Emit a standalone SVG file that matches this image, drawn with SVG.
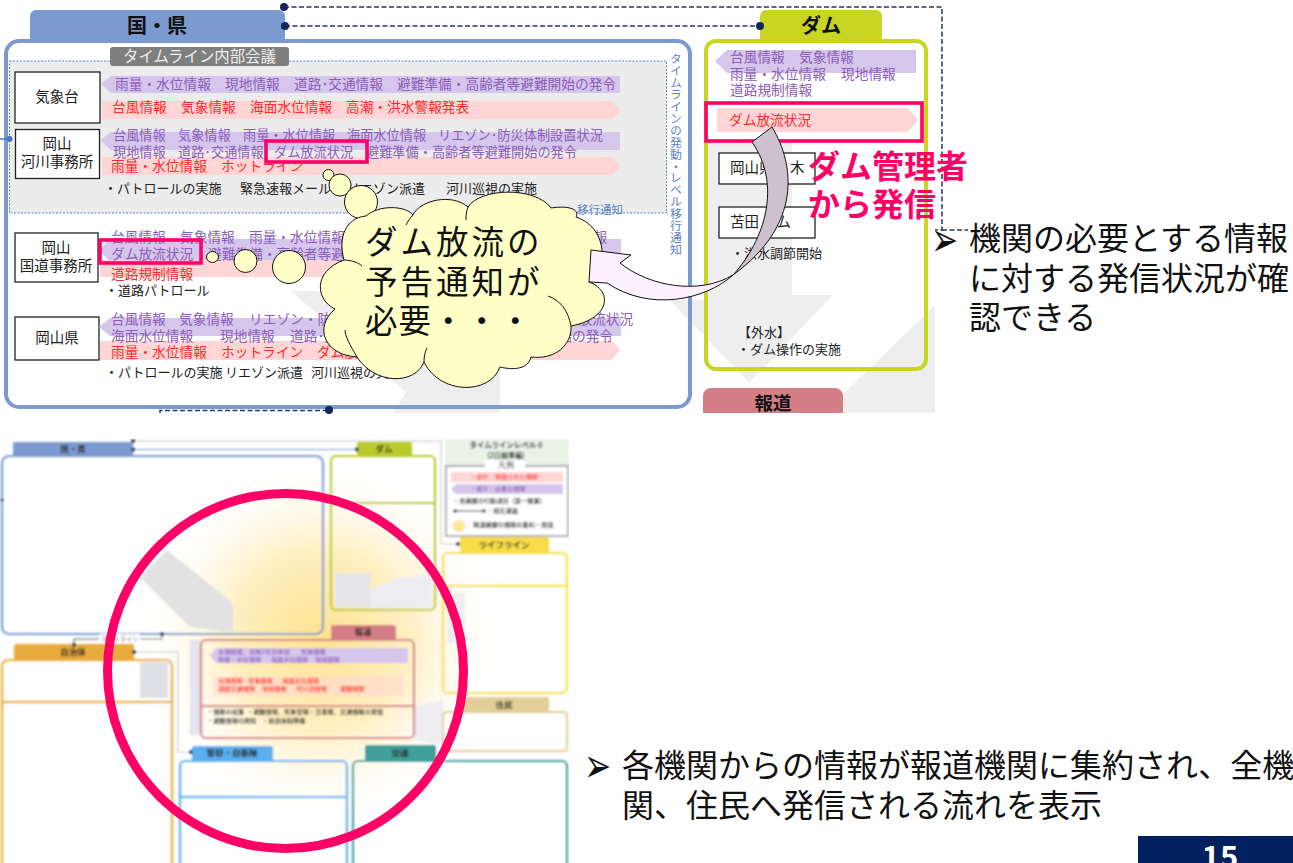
<svg xmlns="http://www.w3.org/2000/svg" width="1293" height="863" viewBox="0 0 1293 863">
<style>
text{font-family:"Noto Sans CJK JP","Noto Sans",sans-serif}
.pb{fill:#d6c6ec}.kb{fill:#ffd5d5}
.pt{fill:#8a5cb8;font-size:13.7px}.rt{fill:#ff2a2a;font-size:13.7px}.bt{fill:#222;font-size:13px}
.nr{font-size:13.2px}
.box{fill:#fff;stroke:#222;stroke-width:1.3}
.bx{font-size:14.5px;fill:#222;text-anchor:middle}
.tab{font-weight:700;fill:#111;text-anchor:middle}
.link{fill:none;stroke:#1f3864;stroke-width:1.5;stroke-dasharray:5 2.5}
.dot{fill:#12285c}
.hl{fill:none;stroke:#ff0066;stroke-width:3.6}
.big{font-size:32px;fill:#111}
.bul{font-size:24px;fill:#111;font-family:"DejaVu Sans",sans-serif}
.s{font-size:6.2px;font-weight:500}
.tb{font-size:8.5px;font-weight:700;fill:#222;text-anchor:middle}
.bubble{fill:#ffffc8;stroke:#111;stroke-width:1}
</style>
<defs>
<radialGradient id="sun" cx="320" cy="640" r="185" gradientUnits="userSpaceOnUse">
<stop offset="0" stop-color="#ffe28e"/><stop offset=".5" stop-color="#fff0c4"/><stop offset="1" stop-color="#fff" stop-opacity="0"/>
</radialGradient>
<filter id="soft" x="0" y="0" width="100%" height="100%" filterUnits="objectBoundingBox"><feGaussianBlur stdDeviation=".8"/></filter>
</defs>
<rect width="1293" height="863" fill="#fff"/>

<g id="backdrop-top" fill="#eeeeee">
<polygon points="290,290 406,392 393,413 500,413 500,300"/>
<polygon points="670,300 749,383 833,295 792,295 792,143 708,143 708,300"/>
<polygon points="935,305 840,397 840,413 935,413"/>
</g>

<g id="panel-kuni">
<path d="M30 41V16a6 6 0 0 1 6-6H279a6 6 0 0 1 6 6V41Z" fill="#7b9ad0"/>
<text class="tab" x="157" y="33" font-size="20">国・県</text>
<rect x="6" y="41" width="684" height="366" rx="13" fill="none" stroke="#7b9ad0" stroke-width="4"/>
<rect x="9.5" y="61" width="657" height="152" fill="#ececec" stroke="#5b82c7" stroke-width="1" stroke-dasharray="2 1.5"/>
<rect x="110" y="47" width="179" height="19" rx="3" fill="#7f7f7f"/>
<text x="123" y="62" font-size="15.4" fill="#eee">タイムライン内部会議</text>
<text x="676" y="53" font-size="11.9" fill="#5b82c7" style="writing-mode:vertical-rl">タイムラインの発動・レベル移行通知</text>
<text x="577" y="214" font-size="11.5" fill="#5b82c7">移行通知</text>
</g>

<g id="node-kishodai">
<rect class="box" x="15" y="72" width="85" height="51"/>
<text class="bx" x="57" y="102">気象台</text>
<polygon class="pb" points="101,84 111,76 620,76 620,93 111,93"/>
<text class="pt" y="89"><tspan x="115">雨量・水位情報</tspan><tspan x="225">現地情報</tspan><tspan x="294">道路･交通情報</tspan><tspan x="397">避難準備・高齢者等避難開始の発令</tspan></text>
<polygon class="kb" points="102,101 612,101 621,110 612,119 102,119"/>
<text class="rt" y="112"><tspan x="112">台風情報</tspan><tspan x="181">気象情報</tspan><tspan x="250">海面水位情報</tspan><tspan x="346">高潮・洪水警報発表</tspan></text>
</g>

<g id="node-kasen">
<rect class="box" x="15.5" y="129.5" width="84" height="49"/>
<text class="bx" x="57" y="149">岡山</text><text class="bx" x="57" y="167">河川事務所</text>
<polygon class="pb" points="100,140 111,132 620,132 620,150 111,150"/>
<polygon class="kb" points="102,157 612,157 621,166 612,175 102,175"/>
<text class="pt nr" y="140" style="font-size:13.2px"><tspan x="113">台風情報</tspan><tspan x="178">気象情報</tspan><tspan x="243">雨量・水位情報</tspan><tspan x="347">海面水位情報</tspan><tspan x="438">リエゾン･防災体制設置状況</tspan></text>
<text class="pt nr" y="157" style="font-size:13.2px"><tspan x="113">現地情報</tspan><tspan x="178">道路･交通情報</tspan><tspan x="274">ダム放流状況</tspan><tspan x="366">避難準備・高齢者等避難開始の発令</tspan></text>
<text class="rt" y="171"><tspan x="111">雨量・水位情報</tspan><tspan x="221">ホットライン</tspan></text>
<rect class="hl" x="266" y="141" width="101" height="21"/>
<text class="bt" y="193"><tspan x="104">・パトロールの実施</tspan><tspan x="240">緊急速報メール</tspan><tspan x="347">リエゾン派遣</tspan><tspan x="446">河川巡視の実施</tspan></text>
</g>

<g id="node-kokudo">
<rect class="box" x="15" y="233" width="83" height="49"/>
<text class="bx" x="56" y="253">岡山</text><text class="bx" x="56" y="271">国道事務所</text>
<polygon class="pb" points="99,250 110,239 621,239 621,262 110,262"/>
<polygon class="kb" points="100,260 612,260 621,268 612,277 100,277"/>
<text class="pt" y="242"><tspan x="111">台風情報</tspan><tspan x="180">気象情報</tspan><tspan x="249">雨量・水位情報</tspan><tspan x="525">海面水位情報</tspan></text>
<text class="pt" y="259"><tspan x="111">ダム放流状況</tspan><tspan x="208">避難準備・高齢者等避難開始の発令</tspan></text>
<text class="rt" y="279"><tspan x="111">道路規制情報</tspan></text>
<rect class="hl" x="100" y="240" width="101" height="23"/>
<text class="bt" x="105" y="295">・道路パトロール</text>
</g>

<g id="node-ken">
<rect class="box" x="15" y="317" width="84" height="43"/>
<text class="bx" x="57" y="343">岡山県</text>
<polygon class="pb" points="99,327 110,318 621,318 621,336 110,336"/>
<polygon class="kb" points="100,341 612,341 620,350 612,360 100,360"/>
<text class="pt" y="324"><tspan x="111">台風情報</tspan><tspan x="179">気象情報</tspan><tspan x="249">リエゾン・防災体制設置状況</tspan><tspan x="551">ダム放流状況</tspan></text>
<text class="pt" y="341"><tspan x="111">海面水位情報</tspan><tspan x="220">現地情報</tspan><tspan x="290">道路･交通情報</tspan><tspan x="394">避難準備・高齢者等避難開始の発令</tspan></text>
<text class="rt" y="357"><tspan x="111">雨量・水位情報</tspan><tspan x="221">ホットライン</tspan><tspan x="317">ダム放流状況</tspan></text>
<text class="bt" y="377"><tspan x="105">・パトロールの実施</tspan><tspan x="225">リエゾン派遣</tspan><tspan x="311">河川巡視の実施</tspan></text>
</g>

<g id="panel-dam">
<path d="M760 41V16a6 6 0 0 1 6-6H876a6 6 0 0 1 6 6V41Z" fill="#c8d522"/>
<text class="tab" x="821" y="33" font-size="20">ダム</text>
<rect x="706" y="41" width="220" height="328" rx="10" fill="none" stroke="#c8d522" stroke-width="4"/>
<polygon class="pb" points="715,61 727,50 916,50 916,73 727,73"/>
<text class="pt" y="62"><tspan x="730">台風情報</tspan><tspan x="799">気象情報</tspan></text>
<text class="pt" y="79"><tspan x="730">雨量・水位情報</tspan><tspan x="841">現地情報</tspan></text>
<text class="pt" x="730" y="95">道路規制情報</text>
<polygon class="kb" points="717,108 908,108 918,120 908,132 717,132"/>
<text class="rt" x="729" y="125">ダム放流状況</text>
<rect class="hl" x="706" y="103" width="216" height="38"/>
<rect class="box" x="719" y="153" width="96" height="31"/>
<text class="bx" style="text-anchor:start" y="173"><tspan x="730">岡山県</tspan><tspan x="790">木</tspan></text>
<rect class="box" x="719" y="207" width="96" height="31"/>
<text class="bx" style="text-anchor:start" y="227"><tspan x="730">苫田</tspan><tspan x="762">ダム</tspan></text>
<text class="bt" x="731" y="258">・洪水調節開始</text>
<text class="bt" y="337"><tspan x="738">【外水】</tspan></text>
<text class="bt" x="737" y="354">・ダム操作の実施</text>
</g>

<g id="node-hodo-top">
<path d="M703 413V396a8 8 0 0 1 8-8H835a8 8 0 0 1 8 8V413Z" fill="#d47f85"/>
<text class="tab" x="773" y="410" font-size="18.5">報道</text>
</g>

<g id="connectors">
<polyline class="link" points="284,7 942,7 942,230 935,230"/>
<line class="link" x1="942" y1="230" x2="968" y2="230"/>
<line class="link" x1="285" y1="26" x2="760" y2="26"/>
<polyline class="link" points="160,413 160,410.5 329,410.5"/>
<circle class="dot" cx="284" cy="7" r="4"/><circle class="dot" cx="285" cy="26" r="4"/><circle class="dot" cx="760" cy="26" r="4"/><circle class="dot" cx="329" cy="410" r="4"/>
<line x1="0" y1="139" x2="9" y2="139" stroke="#4472c4" stroke-width="1.5"/><circle cx="9.5" cy="139" r="3" fill="#4472c4"/>
</g>

<g id="callout-cloud">
<circle class="bubble" cx="328.5" cy="175" r="5.5"/>
<circle class="bubble" cx="340" cy="185" r="11"/>
<circle class="bubble" cx="361" cy="202" r="16.5"/>
<ellipse class="bubble" cx="212.5" cy="257" rx="6" ry="5.5"/>
<circle class="bubble" cx="245.5" cy="261" r="11.5"/>
<circle class="bubble" cx="289" cy="267" r="16.5"/>
<path class="bubble" d="M335 309C316 300 312 272 344 260C338 238 345 218 366 216C378 205 405 205 413 215C420 200 452 193 468 207C480 188 535 186 551 208C570 205 580 210 576 217C600 225 606 250 600 267C600 272 595 280 589 282C612 290 612 318 571 326C572 345 555 360 531 357C528 370 512 370 500 367C490 395 440 395 424 362C415 385 375 385 357 357C325 355 313 328 335 309Z"/>
<path d="M571 326C568 310 560 300 548 296M413 215C410 218 408 221 406 225M468 207C466 212 466 216 466 220M344 260C350 260 358 262 362 266M357 357C350 345 345 336 345 330M424 362C424 356 425 352 427 348" fill="none" stroke="#111" stroke-width="1"/>
<text x="365" y="254" font-size="32.5" fill="#111" letter-spacing="3">ダム放流の</text>
<text x="365" y="294" font-size="32.5" fill="#111" letter-spacing="3">予告通知が</text>
<text x="365" y="333" font-size="32.5" fill="#111" letter-spacing="1">必要・・・</text>
</g>

<g id="curved-arrow">
<path d="M752 142L772 127C795 165 802 225 733 275C765 240 782 185 752 142Z" fill="#cdc1cd" stroke="#111" stroke-width="1"/>
<path d="M591 250L631 255L620 263C650 287 700 295 733 275C705 300 650 312 607 283L589 282Z" fill="#fdf0fd" stroke="#111" stroke-width="1"/>
</g>
<text x="808" y="178" font-size="32" font-weight="700" fill="#ff0066">ダム管理者</text>
<text x="808" y="216" font-size="32" font-weight="700" fill="#ff0066">から発信</text>

<g id="note-1">
<text class="bul" transform="translate(931 256) scale(1.35 2)">➢</text>
<text class="big" x="969" y="250">機関の必要とする情報</text>
<text class="big" x="969" y="290">に対する発信状況が確</text>
<text class="big" x="969" y="329">認できる</text>
</g>

<g id="thumbnail" filter="url(#soft)">
<ellipse cx="320" cy="640" rx="185" ry="185" fill="url(#sun)"/>
<polygon points="140,577 167,550 233,603 233,632 190,627" fill="#e2e2e2"/>
<rect x="140" y="662" width="28" height="36" fill="#dfe0e6"/>
<rect x="335" y="573" width="35" height="34" fill="#e6e6ea"/>
<polygon points="370,590 395,578 432,575 432,608 370,608" fill="#eeeef2"/>
<rect x="447" y="593" width="18" height="50" fill="#eeeef0"/>
<polygon points="414,706 443,700 443,745 414,740" fill="#eeeef2"/>
<rect x="190" y="640" width="10" height="95" fill="#e4e4ee"/>
<g id="t-kuni"><rect x="13" y="442" width="120" height="15" rx="2" fill="#7b9ad0"/><text class="tb" x="73" y="452">国・県</text>
<rect x="2" y="456" width="321" height="178" rx="7" fill="none" stroke="#7b9ad0" stroke-width="2.2"/></g>
<g id="t-jichi"><rect x="14" y="644" width="120" height="17" rx="2" fill="#e8ab3c"/><text class="tb" x="73" y="655">自治体</text>
<rect x="2" y="660" width="170" height="210" rx="6" fill="none" stroke="#e8ab3c" stroke-width="2.2"/><line x1="2" y1="702" x2="172" y2="702" stroke="#e8ab3c" stroke-width="2"/></g>
<g id="t-keisatsu"><rect x="192" y="746" width="81" height="16" rx="2" fill="#5cb0ee"/><text class="tb" x="232" y="756">警察・自衛隊</text>
<rect x="180" y="761" width="167" height="115" rx="5" fill="none" stroke="#5cb0ee" stroke-width="2.2"/><line x1="180" y1="797" x2="347" y2="797" stroke="#5cb0ee" stroke-width="2"/></g>
<g id="t-kotsu"><rect x="365" y="745" width="71" height="17" rx="2" fill="#3f9e9b"/><text class="tb" x="400" y="756">交通</text>
<rect x="353" y="761" width="214" height="115" rx="5" fill="none" stroke="#3f9e9b" stroke-width="2.2"/></g>
<g id="t-dam"><rect x="357" y="442" width="55" height="15" rx="2" fill="#b8cb2a"/><text class="tb" x="384" y="452">ダム</text>
<rect x="331" y="456" width="104" height="154" rx="5" fill="none" stroke="#b8cb2a" stroke-width="2.2"/><line x1="331" y1="503" x2="435" y2="503" stroke="#b8cb2a" stroke-width="2"/></g>
<g id="t-hodo"><rect x="331" y="625" width="65" height="16" rx="2" fill="#d47f85"/><text class="tb" x="363" y="635">報道</text>
<rect x="201" y="640" width="213" height="98" rx="5" fill="none" stroke="#d47f85" stroke-width="2.2"/><line x1="201" y1="706" x2="414" y2="706" stroke="#d47f85" stroke-width="2"/>
<polygon points="210,655 216,648 408,648 408,663 216,663" fill="#d6c6ec"/>
<rect x="213" y="676" width="190" height="20" fill="#ffd9d0" opacity=".6"/>
<text class="s" fill="#8a5cb8" y="654"><tspan x="218">台風情報、台風2号合参加</tspan><tspan x="301">気象情報</tspan></text>
<text class="s" fill="#8a5cb8" y="662"><tspan x="218">雨量・水位情報</tspan><tspan x="271">海面水位情報</tspan><tspan x="315">地域情報</tspan></text>
<text class="s" fill="#ff2a2a" y="683"><tspan x="218">台風情報</tspan><tspan x="248">気象情報</tspan><tspan x="282">海面水位情報</tspan></text>
<text class="s" fill="#ff2a2a" y="691"><tspan x="218">道路交通情報</tspan><tspan x="262">地域情報</tspan><tspan x="296">河川流情報</tspan><tspan x="340">避難情報</tspan></text>
<text class="s" fill="#222" y="714"><tspan x="207">・情報の収集</tspan><tspan x="247">・避難情報、気象警報・注意報、交通情報の発信</tspan></text>
<text class="s" fill="#222" y="723"><tspan x="207">・避難情報の周知</tspan><tspan x="262">・放送体制準備</tspan></text></g>
<g id="t-legend"><rect x="445" y="439" width="124" height="27" fill="#e9f3e6"/>
<text class="tb" x="506" y="448" style="font-size:7.5px">タイムラインレベル 0</text><text class="tb" x="506" y="458" style="font-size:7px">(2日前準備)</text>
<rect x="446" y="466" width="122" height="70" fill="#fff" stroke="#8a8f98" stroke-width="1.5"/>
<rect x="485" y="460" width="40" height="10" fill="#fff"/><text x="506" y="468" font-size="8" fill="#333" text-anchor="middle">凡例</text>
<rect x="451" y="472" width="112" height="10" fill="#ffd5d5"/><text class="s" x="470" y="479" fill="#ff2a2a">・赤字：発信された情報</text>
<polygon points="451,489 456,484 563,484 563,494 456,494" fill="#d6c6ec"/><text class="s" x="470" y="491" fill="#8a5cb8">・紫字：必要な情報</text>
<text class="s" x="453" y="503" fill="#222">・各機関の行動項目（第一順番）</text>
<line x1="455" y1="511" x2="484" y2="511" stroke="#111" stroke-width=".8"/><circle cx="455" cy="511" r="1.8" fill="#12285c"/><circle cx="484" cy="511" r="1.8" fill="#12285c"/><text class="s" x="487" y="513" fill="#222">：相互連絡</text>
<ellipse cx="459" cy="526" rx="6.500" ry="6" fill="#ffe49a"/><text class="s" x="473" y="527" fill="#222">報道機関の情報の集約・発信</text></g>
<g id="t-life"><rect x="460" y="537" width="89" height="16" rx="2" fill="#f8dd4a"/><text class="tb" x="504" y="548">ライフライン</text>
<rect x="443" y="553" width="124" height="140" rx="5" fill="none" stroke="#f8dd4a" stroke-width="2.2"/><line x1="443" y1="586" x2="567" y2="586" stroke="#f8dd4a" stroke-width="2"/></g>
<g id="t-jumin"><rect x="463" y="697" width="86" height="16" fill="#e3cd98"/><text class="tb" x="504" y="708">住民</text>
<rect x="443" y="712" width="124" height="39" rx="3" fill="none" stroke="#e3cd98" stroke-width="2"/></g>
<g id="t-links">
<polyline points="133,441 441,441 441,544 458,544" fill="none" stroke="#777" stroke-width=".8" stroke-dasharray="2 1.5"/>
<line x1="133" y1="449.5" x2="357" y2="449.5" stroke="#7b9ad0" stroke-width="1"/>
<polyline points="74,646 74,639 162,639 162,634" fill="none" stroke="#333" stroke-width=".8"/>
<polyline points="134,652 178,652 178,752 191,752" fill="none" stroke="#777" stroke-width=".8" stroke-dasharray="2 1.5"/>
<rect x="100" y="634" width="40" height="8" fill="#fff"/><text x="120" y="641" font-size="6" fill="#444" text-anchor="middle">ホットライン</text>
<g class="dot"><circle cx="133" cy="441" r="2"/><circle cx="133" cy="449.5" r="2"/><circle cx="357" cy="449.5" r="2"/><circle cx="458" cy="544" r="2"/><circle cx="2" cy="500" r="1.5"/><circle cx="162" cy="634" r="2"/><circle cx="74" cy="645" r="2"/><circle cx="134" cy="652" r="2"/><circle cx="191" cy="752" r="2"/></g>
</g>
</g>

<ellipse id="highlight-ring" cx="285.5" cy="671" rx="178" ry="177.5" fill="none" stroke="#ff0066" stroke-width="9"/>

<g id="note-2">
<text class="bul" transform="translate(584 782) scale(1.35 2)">➢</text>
<text class="big" x="622" y="777">各機関からの情報が報道機関に集約され、全機</text>
<text class="big" x="622" y="817">関、住民へ発信される流れを表示</text>
</g>

<g id="page-number">
<rect x="1138" y="836" width="155" height="27" fill="#002060"/>
<text x="1220" y="868" font-size="31" font-weight="700" fill="#fff" text-anchor="middle">15</text>
</g>
</svg>
